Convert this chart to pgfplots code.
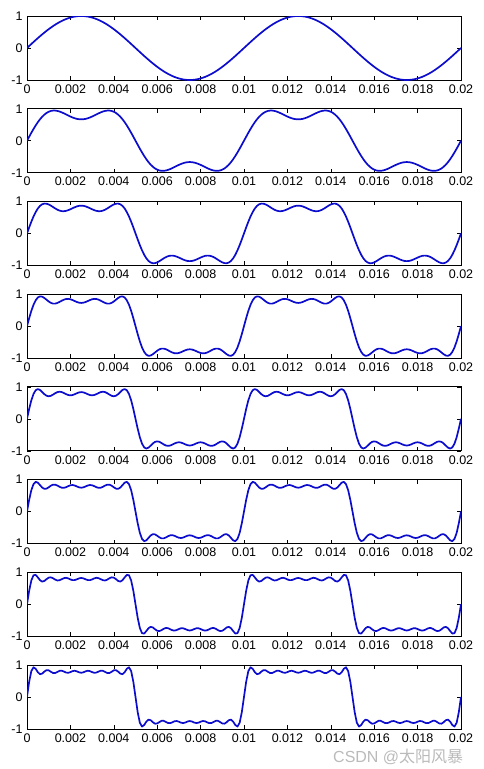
\documentclass[border=0pt]{standalone}
\usepackage{pgfplots}
\usepackage{pgfplotstable}
\usepackage{fontspec}
\pgfplotsset{compat=1.18}
\setmainfont{Liberation Sans}
\newfontfamily\cjk{Noto Sans CJK SC}
\definecolor{lineblue}{RGB}{12,12,205}

\pgfplotstableread{
t y1 y2 y3 y4 y5 y6 y7 y8
0.0000 0 0 0 0 0 0 0 0
0.0001 0.063 0.125 0.187 0.248 0.307 0.365 0.422 0.475
0.0002 0.125 0.248 0.366 0.476 0.576 0.666 0.742 0.806
0.0003 0.187 0.366 0.528 0.666 0.776 0.856 0.905 0.926
0.0004 0.249 0.477 0.667 0.807 0.893 0.927 0.917 0.878
0.0005 0.309 0.579 0.779 0.894 0.929 0.901 0.838 0.772
0.0006 0.368 0.670 0.860 0.929 0.901 0.824 0.749 0.710
0.0007 0.426 0.749 0.910 0.919 0.838 0.748 0.707 0.728
0.0008 0.482 0.814 0.932 0.879 0.770 0.708 0.727 0.791
0.0009 0.536 0.867 0.928 0.824 0.721 0.715 0.783 0.837
0.0010 0.588 0.905 0.905 0.769 0.704 0.757 0.830 0.830
0.0011 0.637 0.930 0.868 0.726 0.719 0.807 0.840 0.786
0.0012 0.685 0.941 0.824 0.703 0.757 0.839 0.811 0.747
0.0013 0.729 0.941 0.780 0.703 0.800 0.839 0.768 0.747
0.0014 0.771 0.931 0.741 0.723 0.834 0.811 0.742 0.781
0.0015 0.809 0.912 0.712 0.756 0.846 0.773 0.749 0.815
0.0016 0.844 0.886 0.696 0.794 0.835 0.744 0.781 0.820
0.0017 0.876 0.855 0.694 0.826 0.806 0.739 0.814 0.793
0.0018 0.905 0.822 0.704 0.847 0.771 0.760 0.825 0.761
0.0019 0.930 0.788 0.726 0.851 0.744 0.792 0.807 0.753
0.0020 0.951 0.755 0.755 0.839 0.733 0.820 0.775 0.775
0.0021 0.969 0.726 0.787 0.814 0.743 0.828 0.752 0.806
0.0022 0.982 0.701 0.818 0.783 0.769 0.813 0.754 0.817
0.0023 0.992 0.682 0.844 0.753 0.800 0.783 0.778 0.799
0.0024 0.998 0.671 0.861 0.732 0.825 0.755 0.808 0.769
0.0025 1.000 0.667 0.867 0.724 0.835 0.744 0.821 0.754
0.0026 0.998 0.671 0.861 0.732 0.825 0.755 0.808 0.769
0.0027 0.992 0.682 0.844 0.753 0.800 0.783 0.778 0.799
0.0028 0.982 0.701 0.818 0.783 0.769 0.813 0.754 0.817
0.0029 0.969 0.726 0.787 0.814 0.743 0.828 0.752 0.806
0.0030 0.951 0.755 0.755 0.839 0.733 0.820 0.775 0.775
0.0031 0.930 0.788 0.726 0.851 0.744 0.792 0.807 0.753
0.0032 0.905 0.822 0.704 0.847 0.771 0.760 0.825 0.761
0.0033 0.876 0.855 0.694 0.826 0.806 0.739 0.814 0.793
0.0034 0.844 0.886 0.696 0.794 0.835 0.744 0.781 0.820
0.0035 0.809 0.912 0.712 0.756 0.846 0.773 0.749 0.815
0.0036 0.771 0.931 0.741 0.723 0.834 0.811 0.742 0.781
0.0037 0.729 0.941 0.780 0.703 0.800 0.839 0.768 0.747
0.0038 0.685 0.941 0.824 0.703 0.757 0.839 0.811 0.747
0.0039 0.637 0.930 0.868 0.726 0.719 0.807 0.840 0.786
0.0040 0.588 0.905 0.905 0.769 0.704 0.757 0.830 0.830
0.0041 0.536 0.867 0.928 0.824 0.721 0.715 0.783 0.837
0.0042 0.482 0.814 0.932 0.879 0.770 0.708 0.727 0.791
0.0043 0.426 0.749 0.910 0.919 0.838 0.748 0.707 0.728
0.0044 0.368 0.670 0.860 0.929 0.901 0.824 0.749 0.710
0.0045 0.309 0.579 0.779 0.894 0.929 0.901 0.838 0.772
0.0046 0.249 0.477 0.667 0.807 0.893 0.927 0.917 0.878
0.0047 0.187 0.366 0.528 0.666 0.776 0.856 0.905 0.926
0.0048 0.125 0.248 0.366 0.476 0.576 0.666 0.742 0.806
0.0049 0.063 0.125 0.187 0.248 0.307 0.365 0.422 0.475
0.0050 0 0 0 0 0 0 0 0
0.0051 -0.063 -0.125 -0.187 -0.248 -0.307 -0.365 -0.422 -0.475
0.0052 -0.125 -0.248 -0.366 -0.476 -0.576 -0.666 -0.742 -0.806
0.0053 -0.187 -0.366 -0.528 -0.666 -0.776 -0.856 -0.905 -0.926
0.0054 -0.249 -0.477 -0.667 -0.807 -0.893 -0.927 -0.917 -0.878
0.0055 -0.309 -0.579 -0.779 -0.894 -0.929 -0.901 -0.838 -0.772
0.0056 -0.368 -0.670 -0.860 -0.929 -0.901 -0.824 -0.749 -0.710
0.0057 -0.426 -0.749 -0.910 -0.919 -0.838 -0.748 -0.707 -0.728
0.0058 -0.482 -0.814 -0.932 -0.879 -0.770 -0.708 -0.727 -0.791
0.0059 -0.536 -0.867 -0.928 -0.824 -0.721 -0.715 -0.783 -0.837
0.0060 -0.588 -0.905 -0.905 -0.769 -0.704 -0.757 -0.830 -0.830
0.0061 -0.637 -0.930 -0.868 -0.726 -0.719 -0.807 -0.840 -0.786
0.0062 -0.685 -0.941 -0.824 -0.703 -0.757 -0.839 -0.811 -0.747
0.0063 -0.729 -0.941 -0.780 -0.703 -0.800 -0.839 -0.768 -0.747
0.0064 -0.771 -0.931 -0.741 -0.723 -0.834 -0.811 -0.742 -0.781
0.0065 -0.809 -0.912 -0.712 -0.756 -0.846 -0.773 -0.749 -0.815
0.0066 -0.844 -0.886 -0.696 -0.794 -0.835 -0.744 -0.781 -0.820
0.0067 -0.876 -0.855 -0.694 -0.826 -0.806 -0.739 -0.814 -0.793
0.0068 -0.905 -0.822 -0.704 -0.847 -0.771 -0.760 -0.825 -0.761
0.0069 -0.930 -0.788 -0.726 -0.851 -0.744 -0.792 -0.807 -0.753
0.0070 -0.951 -0.755 -0.755 -0.839 -0.733 -0.820 -0.775 -0.775
0.0071 -0.969 -0.726 -0.787 -0.814 -0.743 -0.828 -0.752 -0.806
0.0072 -0.982 -0.701 -0.818 -0.783 -0.769 -0.813 -0.754 -0.817
0.0073 -0.992 -0.682 -0.844 -0.753 -0.800 -0.783 -0.778 -0.799
0.0074 -0.998 -0.671 -0.861 -0.732 -0.825 -0.755 -0.808 -0.769
0.0075 -1.000 -0.667 -0.867 -0.724 -0.835 -0.744 -0.821 -0.754
0.0076 -0.998 -0.671 -0.861 -0.732 -0.825 -0.755 -0.808 -0.769
0.0077 -0.992 -0.682 -0.844 -0.753 -0.800 -0.783 -0.778 -0.799
0.0078 -0.982 -0.701 -0.818 -0.783 -0.769 -0.813 -0.754 -0.817
0.0079 -0.969 -0.726 -0.787 -0.814 -0.743 -0.828 -0.752 -0.806
0.0080 -0.951 -0.755 -0.755 -0.839 -0.733 -0.820 -0.775 -0.775
0.0081 -0.930 -0.788 -0.726 -0.851 -0.744 -0.792 -0.807 -0.753
0.0082 -0.905 -0.822 -0.704 -0.847 -0.771 -0.760 -0.825 -0.761
0.0083 -0.876 -0.855 -0.694 -0.826 -0.806 -0.739 -0.814 -0.793
0.0084 -0.844 -0.886 -0.696 -0.794 -0.835 -0.744 -0.781 -0.820
0.0085 -0.809 -0.912 -0.712 -0.756 -0.846 -0.773 -0.749 -0.815
0.0086 -0.771 -0.931 -0.741 -0.723 -0.834 -0.811 -0.742 -0.781
0.0087 -0.729 -0.941 -0.780 -0.703 -0.800 -0.839 -0.768 -0.747
0.0088 -0.685 -0.941 -0.824 -0.703 -0.757 -0.839 -0.811 -0.747
0.0089 -0.637 -0.930 -0.868 -0.726 -0.719 -0.807 -0.840 -0.786
0.0090 -0.588 -0.905 -0.905 -0.769 -0.704 -0.757 -0.830 -0.830
0.0091 -0.536 -0.867 -0.928 -0.824 -0.721 -0.715 -0.783 -0.837
0.0092 -0.482 -0.814 -0.932 -0.879 -0.770 -0.708 -0.727 -0.791
0.0093 -0.426 -0.749 -0.910 -0.919 -0.838 -0.748 -0.707 -0.728
0.0094 -0.368 -0.670 -0.860 -0.929 -0.901 -0.824 -0.749 -0.710
0.0095 -0.309 -0.579 -0.779 -0.894 -0.929 -0.901 -0.838 -0.772
0.0096 -0.249 -0.477 -0.667 -0.807 -0.893 -0.927 -0.917 -0.878
0.0097 -0.187 -0.366 -0.528 -0.666 -0.776 -0.856 -0.905 -0.926
0.0098 -0.125 -0.248 -0.366 -0.476 -0.576 -0.666 -0.742 -0.806
0.0099 -0.063 -0.125 -0.187 -0.248 -0.307 -0.365 -0.422 -0.475
0.0100 0 0 0 0 0 0 0 0
0.0101 0.063 0.125 0.187 0.248 0.307 0.365 0.422 0.475
0.0102 0.125 0.248 0.366 0.476 0.576 0.666 0.742 0.806
0.0103 0.187 0.366 0.528 0.666 0.776 0.856 0.905 0.926
0.0104 0.249 0.477 0.667 0.807 0.893 0.927 0.917 0.878
0.0105 0.309 0.579 0.779 0.894 0.929 0.901 0.838 0.772
0.0106 0.368 0.670 0.860 0.929 0.901 0.824 0.749 0.710
0.0107 0.426 0.749 0.910 0.919 0.838 0.748 0.707 0.728
0.0108 0.482 0.814 0.932 0.879 0.770 0.708 0.727 0.791
0.0109 0.536 0.867 0.928 0.824 0.721 0.715 0.783 0.837
0.0110 0.588 0.905 0.905 0.769 0.704 0.757 0.830 0.830
0.0111 0.637 0.930 0.868 0.726 0.719 0.807 0.840 0.786
0.0112 0.685 0.941 0.824 0.703 0.757 0.839 0.811 0.747
0.0113 0.729 0.941 0.780 0.703 0.800 0.839 0.768 0.747
0.0114 0.771 0.931 0.741 0.723 0.834 0.811 0.742 0.781
0.0115 0.809 0.912 0.712 0.756 0.846 0.773 0.749 0.815
0.0116 0.844 0.886 0.696 0.794 0.835 0.744 0.781 0.820
0.0117 0.876 0.855 0.694 0.826 0.806 0.739 0.814 0.793
0.0118 0.905 0.822 0.704 0.847 0.771 0.760 0.825 0.761
0.0119 0.930 0.788 0.726 0.851 0.744 0.792 0.807 0.753
0.0120 0.951 0.755 0.755 0.839 0.733 0.820 0.775 0.775
0.0121 0.969 0.726 0.787 0.814 0.743 0.828 0.752 0.806
0.0122 0.982 0.701 0.818 0.783 0.769 0.813 0.754 0.817
0.0123 0.992 0.682 0.844 0.753 0.800 0.783 0.778 0.799
0.0124 0.998 0.671 0.861 0.732 0.825 0.755 0.808 0.769
0.0125 1.000 0.667 0.867 0.724 0.835 0.744 0.821 0.754
0.0126 0.998 0.671 0.861 0.732 0.825 0.755 0.808 0.769
0.0127 0.992 0.682 0.844 0.753 0.800 0.783 0.778 0.799
0.0128 0.982 0.701 0.818 0.783 0.769 0.813 0.754 0.817
0.0129 0.969 0.726 0.787 0.814 0.743 0.828 0.752 0.806
0.0130 0.951 0.755 0.755 0.839 0.733 0.820 0.775 0.775
0.0131 0.930 0.788 0.726 0.851 0.744 0.792 0.807 0.753
0.0132 0.905 0.822 0.704 0.847 0.771 0.760 0.825 0.761
0.0133 0.876 0.855 0.694 0.826 0.806 0.739 0.814 0.793
0.0134 0.844 0.886 0.696 0.794 0.835 0.744 0.781 0.820
0.0135 0.809 0.912 0.712 0.756 0.846 0.773 0.749 0.815
0.0136 0.771 0.931 0.741 0.723 0.834 0.811 0.742 0.781
0.0137 0.729 0.941 0.780 0.703 0.800 0.839 0.768 0.747
0.0138 0.685 0.941 0.824 0.703 0.757 0.839 0.811 0.747
0.0139 0.637 0.930 0.868 0.726 0.719 0.807 0.840 0.786
0.0140 0.588 0.905 0.905 0.769 0.704 0.757 0.830 0.830
0.0141 0.536 0.867 0.928 0.824 0.721 0.715 0.783 0.837
0.0142 0.482 0.814 0.932 0.879 0.770 0.708 0.727 0.791
0.0143 0.426 0.749 0.910 0.919 0.838 0.748 0.707 0.728
0.0144 0.368 0.670 0.860 0.929 0.901 0.824 0.749 0.710
0.0145 0.309 0.579 0.779 0.894 0.929 0.901 0.838 0.772
0.0146 0.249 0.477 0.667 0.807 0.893 0.927 0.917 0.878
0.0147 0.187 0.366 0.528 0.666 0.776 0.856 0.905 0.926
0.0148 0.125 0.248 0.366 0.476 0.576 0.666 0.742 0.806
0.0149 0.063 0.125 0.187 0.248 0.307 0.365 0.422 0.475
0.0150 0 0 0 0 0 0 0 0
0.0151 -0.063 -0.125 -0.187 -0.248 -0.307 -0.365 -0.422 -0.475
0.0152 -0.125 -0.248 -0.366 -0.476 -0.576 -0.666 -0.742 -0.806
0.0153 -0.187 -0.366 -0.528 -0.666 -0.776 -0.856 -0.905 -0.926
0.0154 -0.249 -0.477 -0.667 -0.807 -0.893 -0.927 -0.917 -0.878
0.0155 -0.309 -0.579 -0.779 -0.894 -0.929 -0.901 -0.838 -0.772
0.0156 -0.368 -0.670 -0.860 -0.929 -0.901 -0.824 -0.749 -0.710
0.0157 -0.426 -0.749 -0.910 -0.919 -0.838 -0.748 -0.707 -0.728
0.0158 -0.482 -0.814 -0.932 -0.879 -0.770 -0.708 -0.727 -0.791
0.0159 -0.536 -0.867 -0.928 -0.824 -0.721 -0.715 -0.783 -0.837
0.0160 -0.588 -0.905 -0.905 -0.769 -0.704 -0.757 -0.830 -0.830
0.0161 -0.637 -0.930 -0.868 -0.726 -0.719 -0.807 -0.840 -0.786
0.0162 -0.685 -0.941 -0.824 -0.703 -0.757 -0.839 -0.811 -0.747
0.0163 -0.729 -0.941 -0.780 -0.703 -0.800 -0.839 -0.768 -0.747
0.0164 -0.771 -0.931 -0.741 -0.723 -0.834 -0.811 -0.742 -0.781
0.0165 -0.809 -0.912 -0.712 -0.756 -0.846 -0.773 -0.749 -0.815
0.0166 -0.844 -0.886 -0.696 -0.794 -0.835 -0.744 -0.781 -0.820
0.0167 -0.876 -0.855 -0.694 -0.826 -0.806 -0.739 -0.814 -0.793
0.0168 -0.905 -0.822 -0.704 -0.847 -0.771 -0.760 -0.825 -0.761
0.0169 -0.930 -0.788 -0.726 -0.851 -0.744 -0.792 -0.807 -0.753
0.0170 -0.951 -0.755 -0.755 -0.839 -0.733 -0.820 -0.775 -0.775
0.0171 -0.969 -0.726 -0.787 -0.814 -0.743 -0.828 -0.752 -0.806
0.0172 -0.982 -0.701 -0.818 -0.783 -0.769 -0.813 -0.754 -0.817
0.0173 -0.992 -0.682 -0.844 -0.753 -0.800 -0.783 -0.778 -0.799
0.0174 -0.998 -0.671 -0.861 -0.732 -0.825 -0.755 -0.808 -0.769
0.0175 -1.000 -0.667 -0.867 -0.724 -0.835 -0.744 -0.821 -0.754
0.0176 -0.998 -0.671 -0.861 -0.732 -0.825 -0.755 -0.808 -0.769
0.0177 -0.992 -0.682 -0.844 -0.753 -0.800 -0.783 -0.778 -0.799
0.0178 -0.982 -0.701 -0.818 -0.783 -0.769 -0.813 -0.754 -0.817
0.0179 -0.969 -0.726 -0.787 -0.814 -0.743 -0.828 -0.752 -0.806
0.0180 -0.951 -0.755 -0.755 -0.839 -0.733 -0.820 -0.775 -0.775
0.0181 -0.930 -0.788 -0.726 -0.851 -0.744 -0.792 -0.807 -0.753
0.0182 -0.905 -0.822 -0.704 -0.847 -0.771 -0.760 -0.825 -0.761
0.0183 -0.876 -0.855 -0.694 -0.826 -0.806 -0.739 -0.814 -0.793
0.0184 -0.844 -0.886 -0.696 -0.794 -0.835 -0.744 -0.781 -0.820
0.0185 -0.809 -0.912 -0.712 -0.756 -0.846 -0.773 -0.749 -0.815
0.0186 -0.771 -0.931 -0.741 -0.723 -0.834 -0.811 -0.742 -0.781
0.0187 -0.729 -0.941 -0.780 -0.703 -0.800 -0.839 -0.768 -0.747
0.0188 -0.685 -0.941 -0.824 -0.703 -0.757 -0.839 -0.811 -0.747
0.0189 -0.637 -0.930 -0.868 -0.726 -0.719 -0.807 -0.840 -0.786
0.0190 -0.588 -0.905 -0.905 -0.769 -0.704 -0.757 -0.830 -0.830
0.0191 -0.536 -0.867 -0.928 -0.824 -0.721 -0.715 -0.783 -0.837
0.0192 -0.482 -0.814 -0.932 -0.879 -0.770 -0.708 -0.727 -0.791
0.0193 -0.426 -0.749 -0.910 -0.919 -0.838 -0.748 -0.707 -0.728
0.0194 -0.368 -0.670 -0.860 -0.929 -0.901 -0.824 -0.749 -0.710
0.0195 -0.309 -0.579 -0.779 -0.894 -0.929 -0.901 -0.838 -0.772
0.0196 -0.249 -0.477 -0.667 -0.807 -0.893 -0.927 -0.917 -0.878
0.0197 -0.187 -0.366 -0.528 -0.666 -0.776 -0.856 -0.905 -0.926
0.0198 -0.125 -0.248 -0.366 -0.476 -0.576 -0.666 -0.742 -0.806
0.0199 -0.063 -0.125 -0.187 -0.248 -0.307 -0.365 -0.422 -0.475
0.0200 0 0 0 0 0 0 0 0
}\fourier

\pgfplotsset{
  sub/.style={
    scale only axis, width=434pt, height=64pt,
    anchor=north west,
    xmin=0, xmax=0.02, ymin=-1, ymax=1,
    xtick={0,0.002,0.004,0.006,0.008,0.01,0.012,0.014,0.016,0.018,0.02},
    xticklabels={0,0.002,0.004,0.006,0.008,0.01,0.012,0.014,0.016,0.018,0.02},
    ytick={-1,0,1}, yticklabels={-1,0,1},
    tick align=inside, xtick pos=both, ytick pos=both,
    major tick length=4pt,
    tick style={black, line width=0.6pt},
    axis line style={black, line width=0.8pt},
    ticklabel style={font=\fontsize{12.5}{12.5}\selectfont},
    xticklabel style={yshift=-1pt},
    yticklabel style={xshift=-1pt},
    scaled x ticks=false, scaled y ticks=false,
  },
  curve/.style={lineblue, line width=1.7pt, line join=round, no marks},
}

\begin{document}
\begin{tikzpicture}
\useasboundingbox (0,0) rectangle (484pt,-769pt);
\begin{axis}[sub, at={(27pt,-16pt)}]
\addplot[curve] table[x=t, y=y1] {\fourier};
\end{axis}
\begin{axis}[sub, at={(27pt,-108.7pt)}]
\addplot[curve] table[x=t, y=y2] {\fourier};
\end{axis}
\begin{axis}[sub, at={(27pt,-201.4pt)}]
\addplot[curve] table[x=t, y=y3] {\fourier};
\end{axis}
\begin{axis}[sub, at={(27pt,-294.1pt)}]
\addplot[curve] table[x=t, y=y4] {\fourier};
\end{axis}
\begin{axis}[sub, at={(27pt,-386.8pt)}]
\addplot[curve] table[x=t, y=y5] {\fourier};
\end{axis}
\begin{axis}[sub, at={(27pt,-479.5pt)}]
\addplot[curve] table[x=t, y=y6] {\fourier};
\end{axis}
\begin{axis}[sub, at={(27pt,-572.2pt)}]
\addplot[curve] table[x=t, y=y7] {\fourier};
\end{axis}
\begin{axis}[sub, at={(27pt,-664.9pt)}]
\addplot[curve] table[x=t, y=y8] {\fourier};
\end{axis}
\node[anchor=base west, text=black!27, inner sep=0pt] at (333pt,-762pt)
  {\fontsize{16}{16}\selectfont CSDN @{\cjk 太阳风暴}};
\end{tikzpicture}
\end{document}
